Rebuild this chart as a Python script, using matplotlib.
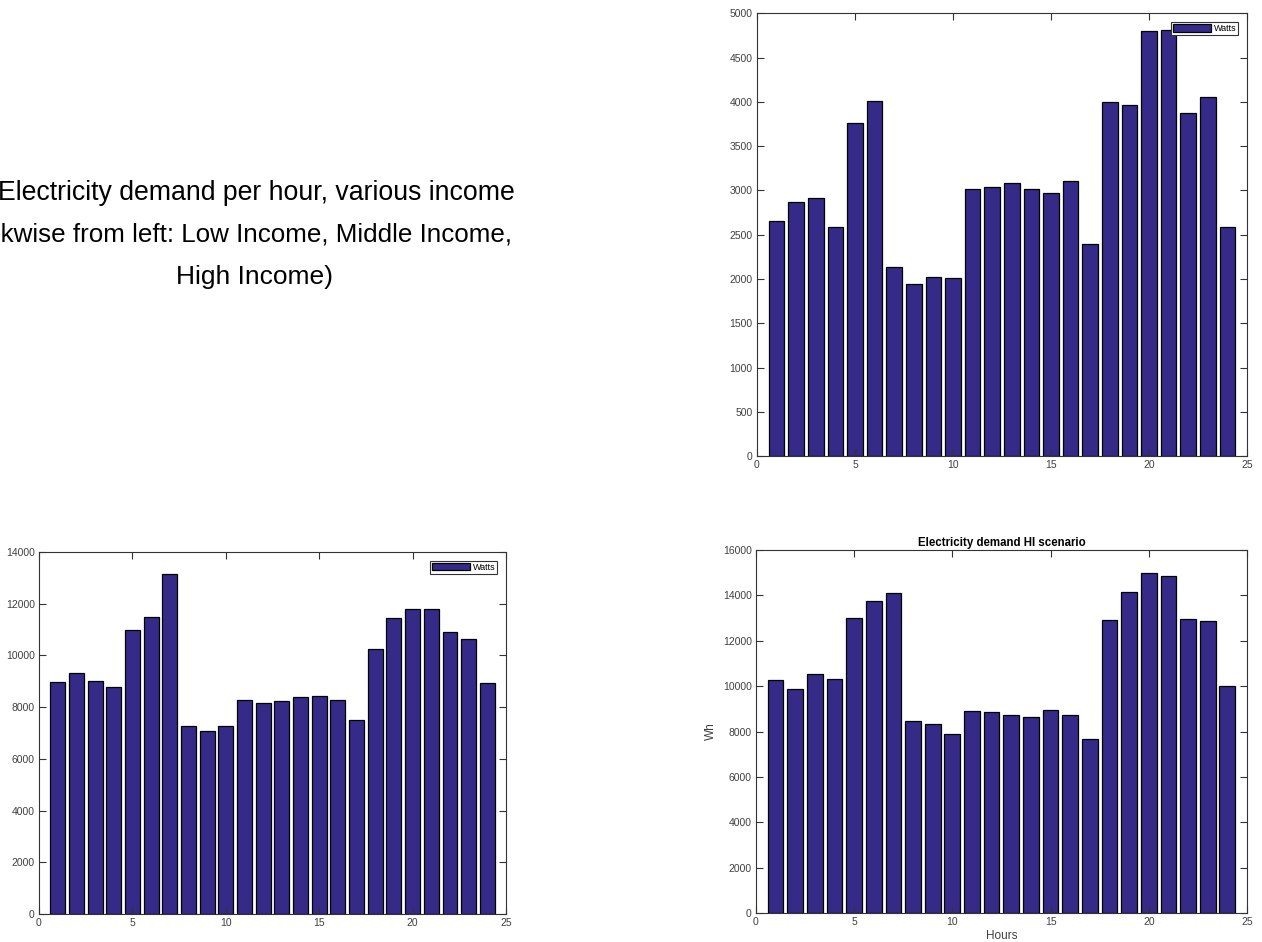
import numpy as np
import matplotlib.pyplot as plt

plt.rcParams['font.family'] = ['Liberation Sans', 'DejaVu Sans']

# hourly demand, hours 1..24
hours = np.arange(1, 25)
demand_mid = [2658, 2869, 2918, 2583, 3758, 4010, 2139, 1943, 2022, 2014, 3012, 3042,
              3080, 3012, 2967, 3106, 2391, 3998, 3961, 4804, 4808, 3874, 4059, 2583]
demand_low = [8989, 9325, 9002, 8769, 10965, 11494, 13134, 7258, 7077, 7271, 8291, 8175,
              8227, 8395, 8433, 8266, 7517, 10242, 11430, 11791, 11778, 10900, 10642, 8924]
demand_high = [10284, 9871, 10519, 10298, 13024, 13775, 14114, 8471, 8324, 7882, 8899, 8869,
               8737, 8648, 8958, 8707, 7676, 12936, 14158, 14983, 14836, 12980, 12862, 9989]

caption = ["Electricity demand per hour, various income",
           "(Clockwise from left: Low Income, Middle Income,",
           "High Income)"]

bar_col = '#352a87'
tick_col = '#404040'


def matlab_bars(ax, y, ymax, ystep, legend=True):
    ax.bar(hours, y, width=0.8, color=bar_col, edgecolor='black', linewidth=0.9, label='Watts')
    ax.set_xlim(0, 25)
    ax.set_ylim(0, ymax)
    ax.set_xticks(np.arange(0, 26, 5))
    ax.set_yticks(np.arange(0, ymax + 1, ystep))
    ax.tick_params(direction='in', top=True, right=True, length=5, width=0.8,
                   labelsize=7.5, labelcolor=tick_col, color='#333333', pad=3)
    for s in ax.spines.values():
        s.set_color('#333333')
        s.set_linewidth(0.8)
    if legend:
        leg = ax.legend(loc='upper right', fontsize=6.5, fancybox=False, framealpha=1,
                        handlelength=4.2, handleheight=0.9, borderpad=0.2,
                        handletextpad=0.3, borderaxespad=1.0)
        leg.get_frame().set_edgecolor('#333333')
        leg.get_frame().set_linewidth(0.8)


fig = plt.figure(figsize=(12.62, 9.42), dpi=100)

ax1 = fig.add_axes([0.5998, 0.5159, 0.3883, 0.4698])
matlab_bars(ax1, demand_mid, 5000, 500)

ax2 = fig.add_axes([0.0309, 0.0297, 0.3701, 0.3843])
matlab_bars(ax2, demand_low, 14000, 2000)

ax3 = fig.add_axes([0.5990, 0.0308, 0.3891, 0.3853])
matlab_bars(ax3, demand_high, 16000, 2000, legend=False)
ax3.set_title('Electricity demand HI scenario', fontsize=8.3, fontweight='bold', pad=3)
ax3.set_xlabel('Hours', fontsize=8.5, color=tick_col, labelpad=2)
ax3.set_ylabel('Wh', fontsize=8.5, color=tick_col, labelpad=4)

# caption text on the left
W, H = 1262, 942
fig.text(515 / W, 1 - 193 / H, caption[0], fontsize=19.2, ha='right', va='center')
fig.text(512 / W, 1 - 235 / H, caption[1], fontsize=18.7, ha='right', va='center')
fig.text(255 / W, 1 - 277 / H, caption[2], fontsize=19, ha='center', va='center')

fig.savefig('out.png', dpi=100)
